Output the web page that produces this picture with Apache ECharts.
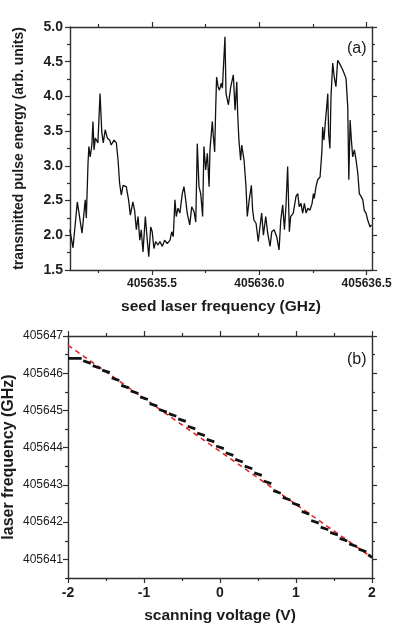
<!DOCTYPE html>
<html>
<head>
<meta charset="utf-8">
<script src="https://cdn.jsdelivr.net/npm/echarts@6/dist/echarts.min.js"></script>
<style>
html, body { margin: 0; padding: 0; background: #fff; }
#chart { width: 397px; height: 626px; }
</style>
</head>
<body>
<div id="chart"></div>
<script>
'use strict';

// ---- panel (a): transmitted pulse energy vs seed laser frequency ----
var freqA = [
    405635.117, 405635.132, 405635.152, 405635.174, 405635.189, 405635.194, 405635.202, 405635.206, 405635.212, 405635.220,
    405635.225, 405635.230, 405635.236, 405635.248, 405635.258, 405635.266, 405635.273, 405635.282, 405635.292, 405635.303,
    405635.310, 405635.323, 405635.334, 405635.342, 405635.349, 405635.357, 405635.365, 405635.380, 405635.391, 405635.399,
    405635.411, 405635.419, 405635.427, 405635.435, 405635.443, 405635.450, 405635.458, 405635.469, 405635.478, 405635.485,
    405635.494, 405635.501, 405635.509, 405635.517, 405635.528, 405635.537, 405635.548, 405635.559, 405635.571, 405635.584,
    405635.592, 405635.599, 405635.607, 405635.613, 405635.621, 405635.630, 405635.641, 405635.649, 405635.657, 405635.664,
    405635.676, 405635.685, 405635.696, 405635.704, 405635.711, 405635.719, 405635.727, 405635.736, 405635.742, 405635.750,
    405635.758, 405635.766, 405635.770, 405635.781, 405635.786, 405635.792, 405635.797, 405635.801, 405635.808, 405635.814,
    405635.823, 405635.828, 405635.840, 405635.845, 405635.856, 405635.867, 405635.879, 405635.887, 405635.895, 405635.899,
    405635.905, 405635.913, 405635.918, 405635.929, 405635.938, 405635.944, 405635.953, 405635.963, 405635.969, 405635.975,
    405635.985, 405635.995,
    405636.003, 405636.011, 405636.019, 405636.030, 405636.039, 405636.050, 405636.058, 405636.069, 405636.081, 405636.092,
    405636.100, 405636.109, 405636.117, 405636.124, 405636.132, 405636.140, 405636.146, 405636.158, 405636.171, 405636.179,
    405636.186, 405636.194, 405636.202, 405636.210, 405636.218, 405636.226, 405636.236, 405636.246, 405636.252, 405636.256,
    405636.264, 405636.272, 405636.283, 405636.292, 405636.295, 405636.301, 405636.308, 405636.314, 405636.319, 405636.323,
    405636.329, 405636.334, 405636.342, 405636.349, 405636.357, 405636.365, 405636.373, 405636.389, 405636.404, 405636.412,
    405636.417, 405636.423, 405636.429, 405636.435, 405636.443, 405636.451, 405636.459, 405636.466, 405636.474, 405636.482,
    405636.489, 405636.497, 405636.505, 405636.516, 405636.522
];
var energyA = [
    2.08, 1.82, 2.48, 2.03, 2.51, 2.25, 3.04, 3.28, 3.13, 3.30,
    3.64, 3.23, 3.40, 3.33, 4.04, 3.49, 3.33, 3.52, 3.40, 3.37,
    3.30, 3.37, 3.33, 3.08, 2.75, 2.58, 2.72, 2.70, 2.51, 2.29,
    2.48, 2.36, 2.08, 2.27, 1.93, 2.08, 1.76, 2.27, 1.93, 1.69,
    2.12, 2.05, 1.81, 1.91, 1.86, 1.91, 1.84, 1.93, 1.88, 1.93,
    2.05, 1.98, 2.51, 2.27, 2.39, 2.32, 2.60, 2.70, 2.51, 2.32,
    2.15, 2.41, 2.34, 2.19, 3.32, 2.70, 2.60, 2.27, 3.28, 2.94,
    3.18, 2.70, 3.23, 3.64, 3.42, 3.20, 3.85, 4.28, 4.14, 4.09,
    4.19, 4.12, 4.86, 4.04, 3.88, 4.14, 4.31, 3.80, 4.21, 3.76,
    3.37, 3.08, 3.30, 3.08, 2.70, 2.27, 2.51, 2.72, 2.36, 2.22,
    2.17, 1.91,
    2.12, 2.32, 2.00, 2.27, 2.03, 1.84, 2.05, 2.08, 1.98, 1.79,
    2.22, 2.44, 2.08, 2.41, 2.99, 2.05, 2.27, 2.32, 2.56, 2.60,
    2.41, 2.46, 2.32, 2.46, 2.32, 2.39, 2.36, 2.46, 2.60, 2.53,
    2.70, 2.80, 2.84, 3.23, 3.56, 3.37, 3.64, 3.85, 4.04, 3.47,
    3.25, 4.00, 4.48, 4.28, 4.14, 4.52, 4.48, 4.38, 4.26, 3.85,
    2.80, 3.66, 3.37, 3.13, 3.23, 3.08, 2.89, 2.60, 2.56, 2.51,
    2.36, 2.32, 2.22, 2.12, 2.15
];
var rangeFreqA = [405635.118, 405636.525];
var rangeEnergyA = [1.5, 5.0];
var freqTicksA = [405635.5, 405636.0, 405636.5];
var freqMinorA = [405635.25, 405635.75, 405636.25];
var energyTicksA = [1.5, 2.0, 2.5, 3.0, 3.5, 4.0, 4.5, 5.0];
var energyMinorA = [1.75, 2.25, 2.75, 3.25, 3.75, 4.25, 4.75];

// ---- panel (b): laser frequency vs scanning voltage ----
// measured staircase, one short piece per step
var dashStartV = [-2.00, -1.80, -1.675, -1.55, -1.425, -1.30, -1.175, -1.05, -0.925, -0.80, -0.675, -0.55, -0.425, -0.30, -0.175, -0.05,
    0.075, 0.20, 0.325, 0.45, 0.575, 0.70, 0.825, 0.95, 1.075, 1.20, 1.325, 1.45, 1.575, 1.70, 1.825, 1.95];
var dashEndV = [-1.82, -1.70, -1.575, -1.45, -1.325, -1.20, -1.075, -0.95, -0.825, -0.70, -0.575, -0.45, -0.325, -0.20, -0.075, 0.05,
    0.175, 0.30, 0.425, 0.55, 0.675, 0.80, 0.925, 1.05, 1.175, 1.30, 1.425, 1.55, 1.675, 1.80, 1.925, 2.00];
var dashStartF = [405646.40, 405646.335, 405646.205, 405646.085, 405645.875, 405645.675, 405645.525, 405645.365, 405645.185, 405645.025,
    405644.915, 405644.775, 405644.575, 405644.395, 405644.225, 405644.045, 405643.865, 405643.685, 405643.505, 405643.325, 405643.105,
    405642.845, 405642.665, 405642.515, 405642.285, 405642.045, 405641.865, 405641.725, 405641.565, 405641.415, 405641.275, 405641.125];
var dashEndF = [405646.40, 405646.265, 405646.135, 405646.015, 405645.805, 405645.605, 405645.455, 405645.295, 405645.115, 405644.955,
    405644.845, 405644.705, 405644.505, 405644.325, 405644.155, 405643.975, 405643.795, 405643.615, 405643.435, 405643.255, 405643.035,
    405642.775, 405642.595, 405642.445, 405642.215, 405641.975, 405641.795, 405641.655, 405641.495, 405641.345, 405641.205, 405641.055];
// linear fit (red dashed)
var fitV = [-2, 2];
var fitF = [405646.75, 405641.05];
var rangeVoltB = [-2, 2];
var rangeFreqB = [405640.5, 405647];
var voltTicksB = [-2, -1, 0, 1, 2];
var voltMinorB = [-1.5, -0.5, 0.5, 1.5];
var freqTicksB = [405641, 405642, 405643, 405644, 405645, 405646, 405647];
var freqMinorB = [405640.5, 405641.5, 405642.5, 405643.5, 405644.5, 405645.5, 405646.5];


var FONT = '"Liberation Sans", Arial, Helvetica, sans-serif';
var INK = '#1c1c1c';
var AXIS_COLOR = '#2e2e2e';

// one axis that only draws ticks (and optionally line / labels)
function tickAxis(grid, pos, range, ticks, len, withLine, label) {
    var ax = {
        type: 'value',
        gridIndex: grid,
        position: pos,
        min: range[0],
        max: range[1],
        splitLine: { show: false },
        axisLine: { show: withLine, onZero: false, lineStyle: { color: AXIS_COLOR, width: 1.4 } },
        axisTick: {
            show: true,
            inside: false,
            length: len,
            customValues: ticks,
            lineStyle: { color: AXIS_COLOR, width: 1.2 }
        },
        axisLabel: { show: false }
    };
    if (label) {
        ax.axisLabel = Object.assign({
            show: true,
            customValues: ticks,
            color: INK,
            fontFamily: FONT,
            fontWeight: 'bold'
        }, label);
    }
    return ax;
}

function withName(ax, text, gap, size) {
    ax.name = text;
    ax.nameLocation = 'middle';
    ax.nameGap = gap;
    ax.nameMoveOverlap = false;
    ax.nameTextStyle = { color: INK, fontFamily: FONT, fontSize: size, fontWeight: 'bold' };
    return ax;
}

function pairPoints(xs, ys) {
    var out = [];
    for (var i = 0; i < xs.length; i++) {
        out.push([xs[i], ys[i]]);
    }
    return out;
}

var lineA = pairPoints(freqA, energyA);
var fitLine = pairPoints(fitV, fitF);

// pieces of the staircase, split by gaps
var stairs = [];
for (var i = 0; i < dashStartV.length; i++) {
    stairs.push([dashStartV[i], dashStartF[i]]);
    stairs.push([dashEndV[i], dashEndF[i]]);
    stairs.push([dashEndV[i], null]);
}

var xAxes = [
    // (a) bottom, top
    withName(tickAxis(0, 'bottom', rangeFreqA, freqTicksA, 5, true, {
        fontSize: 12, margin: 8,
        formatter: function (v) { return v.toFixed(1); }
    }), 'seed laser frequency (GHz)', 29, 15.5),
    tickAxis(0, 'bottom', rangeFreqA, freqMinorA, 3, false),
    tickAxis(0, 'top', rangeFreqA, freqTicksA, 5, true),
    tickAxis(0, 'top', rangeFreqA, freqMinorA, 3, false),
    // (b) bottom, top
    withName(tickAxis(1, 'bottom', rangeVoltB, voltTicksB, 5, true, {
        fontSize: 14, margin: 8
    }), 'scanning voltage (V)', 30, 15.5),
    tickAxis(1, 'bottom', rangeVoltB, voltMinorB, 3, false),
    tickAxis(1, 'top', rangeVoltB, voltTicksB, 5, true),
    tickAxis(1, 'top', rangeVoltB, voltMinorB, 3, false)
];

var yAxes = [
    // (a) left, right
    withName(tickAxis(0, 'left', rangeEnergyA, energyTicksA, 5, true, {
        fontSize: 14, margin: 7,
        formatter: function (v) { return v.toFixed(1); }
    }), 'transmitted pulse energy (arb. units)', 44, 14),
    tickAxis(0, 'left', rangeEnergyA, energyMinorA, 3, false),
    tickAxis(0, 'right', rangeEnergyA, energyTicksA, 5, true),
    tickAxis(0, 'right', rangeEnergyA, energyMinorA, 3, false),
    // (b) left, right
    withName(tickAxis(1, 'left', rangeFreqB, freqTicksB, 5, true, {
        fontSize: 12, margin: 5, fontWeight: 'normal',
        formatter: function (v) { return String(v); }
    }), 'laser frequency (GHz)', 51, 16),
    tickAxis(1, 'left', rangeFreqB, freqMinorB, 3, false),
    tickAxis(1, 'right', rangeFreqB, freqTicksB, 5, true),
    tickAxis(1, 'right', rangeFreqB, freqMinorB, 3, false)
];

var option = {
    animation: false,
    backgroundColor: '#fff',
    title: [
        { text: '(a)', left: 342, top: 36, textStyle: { color: INK, fontFamily: FONT, fontSize: 16, fontWeight: 'normal' } },
        { text: '(b)', left: 342, top: 347, textStyle: { color: INK, fontFamily: FONT, fontSize: 16, fontWeight: 'normal' } }
    ],
    grid: [
        { left: 70, top: 27, width: 302, height: 243, containLabel: false, outerBoundsMode: 'none' },
        { left: 68, top: 336, width: 304, height: 242, containLabel: false, outerBoundsMode: 'none' }
    ],
    xAxis: xAxes,
    yAxis: yAxes,
    series: [
        {
            name: 'pulse energy',
            type: 'line',
            xAxisIndex: 0,
            yAxisIndex: 0,
            data: lineA,
            showSymbol: false,
            lineStyle: { color: '#111', width: 1.3 }
        },
        {
            name: 'linear fit',
            type: 'line',
            xAxisIndex: 4,
            yAxisIndex: 4,
            data: fitLine,
            showSymbol: false,
            lineStyle: { color: '#e5262a', width: 1.6, type: [5, 4] }
        },
        {
            name: 'measured',
            type: 'line',
            xAxisIndex: 4,
            yAxisIndex: 4,
            data: stairs,
            connectNulls: false,
            showSymbol: false,
            lineStyle: { color: '#111', width: 2.8, cap: 'butt' }
        }
    ]
};

var chart = echarts.init(document.getElementById('chart'), null, { renderer: 'canvas' });
chart.setOption(option);
</script>
</body>
</html>
